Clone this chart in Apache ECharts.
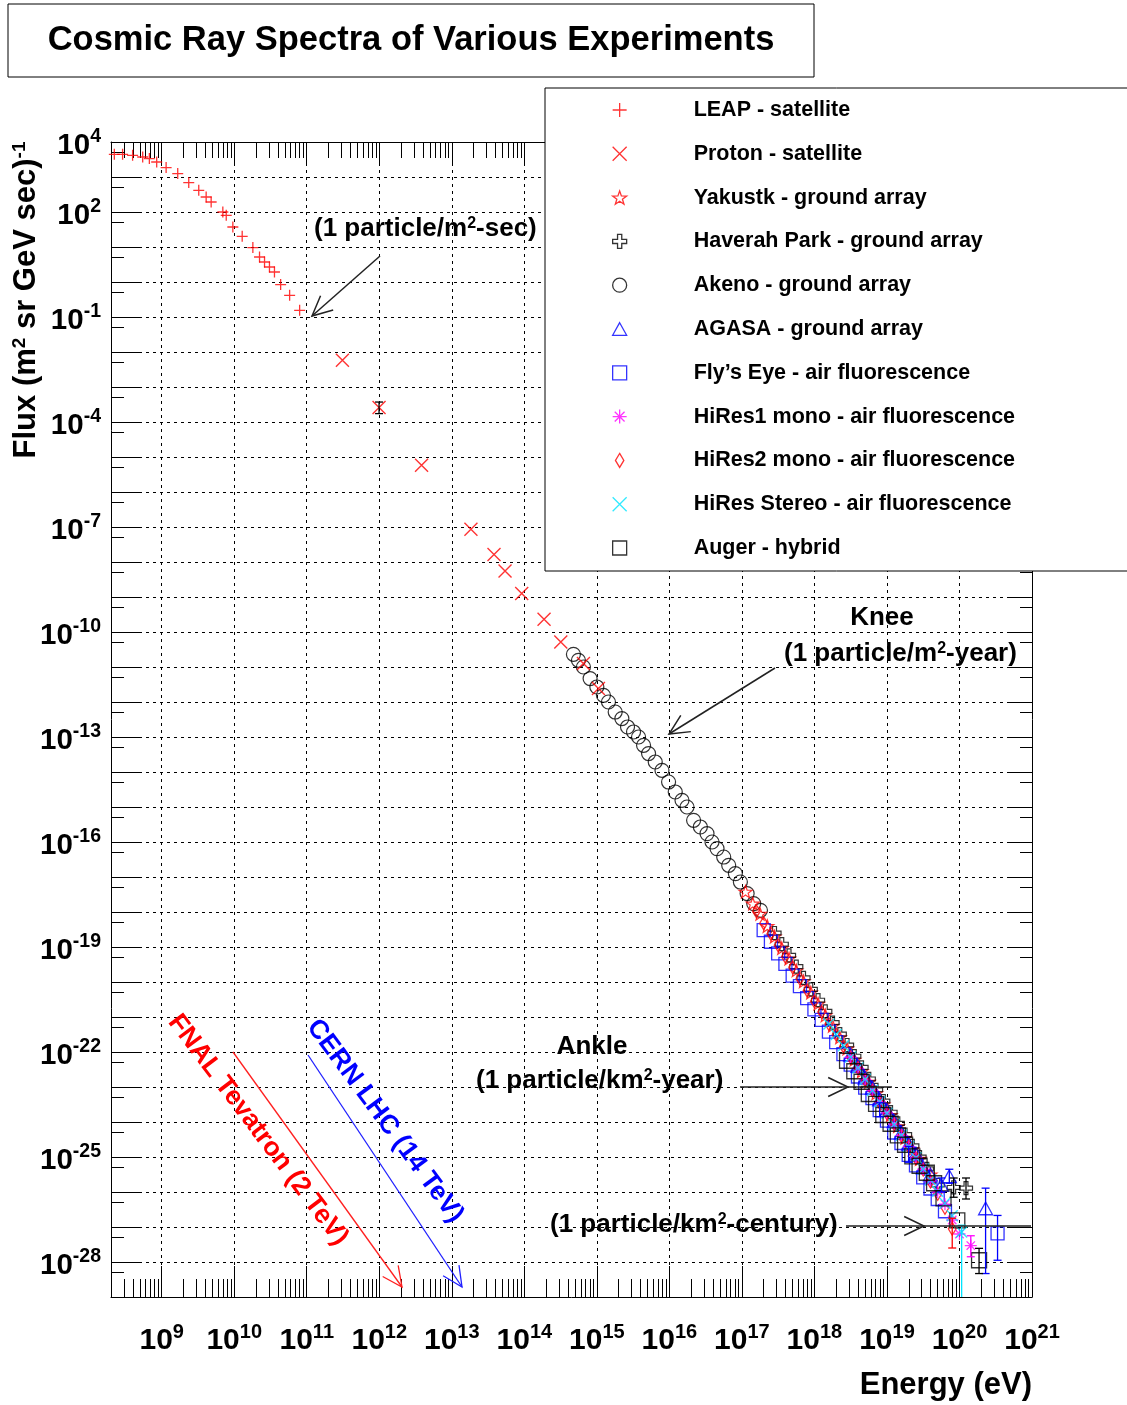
<!DOCTYPE html>
<html><head><meta charset="utf-8">
<script src="https://cdn.jsdelivr.net/npm/echarts@6/dist/echarts.min.js"></script>
<style>html,body{margin:0;padding:0;background:#fff}#c{width:1127px;height:1405px}</style>
</head><body><div id="c"></div>
<script>
const FONT = '"Liberation Sans", Arial, Helvetica, sans-serif';

// ---- Data (log10 of energy in eV, log10 of flux in (m^2 sr GeV sec)^-1) ----
const leapLogE = [8.347,8.461,8.599,8.738,8.830,8.931,9.061,9.221,9.373,9.511,9.613,9.682,9.843,9.890,9.981,10.110,10.257,10.349,10.418,10.486,10.555,10.640,10.764,10.902];
const leapLogFlux = [3.649,3.649,3.620,3.571,3.526,3.429,3.269,3.097,2.840,2.620,2.429,2.286,2.000,1.906,1.571,1.306,0.983,0.714,0.571,0.429,0.286,-0.074,-0.380,-0.809];

const protonLogE = [11.492,11.997,12.583,13.264,13.582,13.734,13.964,14.272,14.503,14.815,15.022];
const protonLogFlux = [-2.237,-3.589,-5.237,-7.066,-7.789,-8.257,-8.903,-9.637,-10.286,-10.903,-11.617];

const yakutskLogE = [17.05,17.15,17.25,17.35,17.45,17.55,17.65,17.75,17.85,17.95,18.05,18.15,18.25,18.35,18.45,18.55,18.65,18.75,18.85,18.95,19.05,19.15,19.25,19.35,19.45,19.60];
const yakutskLogFlux = [-17.42,-17.76,-18.05,-18.40,-18.70,-19.03,-19.33,-19.67,-19.98,-20.30,-20.62,-20.95,-21.25,-21.58,-21.90,-22.22,-22.55,-22.85,-23.18,-23.50,-23.80,-24.12,-24.45,-24.78,-25.05,-25.50];

const haverahLogE = [17.45,17.55,17.65,17.75,17.85,17.95,18.05,18.15,18.25,18.35,18.45,18.55,18.65,18.75,18.85,18.95,19.05,19.15,19.25,19.35,19.45,19.55,19.70,19.92,20.09];
const haverahLogFlux = [-18.60,-18.92,-19.24,-19.56,-19.88,-20.21,-20.52,-20.84,-21.16,-21.49,-21.80,-22.12,-22.44,-22.77,-23.08,-23.40,-23.72,-24.04,-24.36,-24.68,-25.00,-25.34,-25.80,-25.87,-25.89];

const akenoLogE = [14.677,14.746,14.815,14.907,15.000,15.091,15.160,15.253,15.345,15.423,15.506,15.575,15.644,15.713,15.805,15.898,15.989,16.081,16.174,16.243,16.334,16.427,16.519,16.588,16.657,16.749,16.818,16.910,16.979,17.072,17.163,17.256];
const akenoLogFlux = [-10.637,-10.809,-11.000,-11.331,-11.571,-11.809,-12.000,-12.286,-12.474,-12.714,-12.857,-13.000,-13.237,-13.474,-13.714,-13.951,-14.286,-14.571,-14.809,-15.000,-15.380,-15.571,-15.760,-16.000,-16.189,-16.429,-16.666,-16.903,-17.143,-17.474,-17.760,-17.951];

const agasaLogE = [18.50,18.60,18.70,18.80,18.90,19.00,19.10,19.20,19.30,19.40,19.50,19.60,19.75,19.86,20.36];
const agasaLogFlux = [-22.08,-22.40,-22.74,-23.02,-23.36,-23.66,-23.98,-24.30,-24.62,-24.90,-25.30,-25.50,-25.80,-25.55,-26.47];

const flysEyeLogE = [17.3,17.4,17.5,17.6,17.7,17.8,17.9,18.0,18.1,18.2,18.3,18.4,18.5,18.6,18.7,18.8,18.9,19.0,19.1,19.2,19.3,19.4,19.5,19.6,19.7,19.8,20.525];
const flysEyeLogFlux = [-18.52,-18.85,-19.18,-19.48,-19.82,-20.12,-20.46,-20.78,-21.08,-21.42,-21.72,-22.06,-22.36,-22.70,-23.02,-23.32,-23.66,-23.96,-24.30,-24.60,-24.94,-25.24,-25.58,-25.90,-26.20,-26.55,-27.18];

const hires1LogE = [18.5,18.6,18.7,18.8,18.9,19.0,19.1,19.2,19.3,19.4,19.5,19.6,19.7,19.8,19.9,20.0,20.156];
const hires1LogFlux = [-22.15,-22.47,-22.78,-23.10,-23.42,-23.74,-24.06,-24.38,-24.70,-25.02,-25.35,-25.68,-26.00,-26.35,-26.80,-27.20,-27.53];

const hires2LogE = [17.2,17.3,17.4,17.5,17.6,17.7,17.8,17.9,18.0,18.1,18.2,18.3,18.4,18.5,18.6,18.7,18.8,18.9,19.0,19.1,19.2,19.3,19.4,19.5,19.6,19.7,19.8,19.9];
const hires2LogFlux = [-17.98,-18.32,-18.62,-18.95,-19.28,-19.58,-19.90,-20.24,-20.55,-20.86,-21.20,-21.50,-21.84,-22.15,-22.46,-22.80,-23.10,-23.44,-23.75,-24.06,-24.40,-24.70,-25.04,-25.36,-25.70,-26.05,-26.45,-27.05];

const hiresStereoLogE = [18.2,18.3,18.4,18.5,18.6,18.7,18.8,18.9,19.0,19.1,19.2,19.3,19.4,19.5,19.6,19.7,19.8,19.9,20.03];
const hiresStereoLogFlux = [-21.20,-21.50,-21.82,-22.14,-22.46,-22.78,-23.10,-23.42,-23.75,-24.07,-24.38,-24.70,-25.02,-25.34,-25.66,-25.98,-26.32,-26.68,-27.14];

const augerLogE = [18.45,18.55,18.65,18.75,18.85,18.95,19.05,19.15,19.25,19.35,19.45,19.55,19.65,19.78,19.97,20.27];
const augerLogFlux = [-22.25,-22.55,-22.85,-23.20,-23.48,-23.80,-24.05,-24.38,-24.65,-24.98,-25.25,-25.45,-25.75,-26.18,-26.81,-27.95];

// error bars: [logE, lowLogFlux, highLogFlux]
const protonErr = [[11.997,-3.76,-3.43]];
const agasaErr = [[19.75,-26.0,-25.6],[19.86,-25.75,-25.35],[20.36,-28.33,-25.89]];
const flysEyeErr = [[18.9,-23.85,-23.45],[19.3,-25.15,-24.7],[20.525,-27.95,-26.67]];
const augerErr = [[20.27,-28.33,-27.61]];
const hiresStereoErr = [[20.03,-29.5,-26.95]];
const hires1Err = [[20.156,-27.85,-27.25]];
const hires2Err = [[19.9,-27.6,-26.75]];
const haverahErr = [[19.92,-26.15,-25.6],[20.09,-26.2,-25.6]];

const seriesNames = ['LEAP - satellite','Proton - satellite','Yakustk - ground array','Haverah Park - ground array','Akeno - ground array','AGASA - ground array','Fly\u2019s Eye - air fluorescence','HiRes1 mono - air fluorescence','HiRes2 mono - air fluorescence','HiRes Stereo - air fluorescence','Auger - hybrid'];

// axis ticks / labels (exponents)
const xMinLog = Math.log10(2e8), xMaxLog = 21;
const xDecades = [9,10,11,12,13,14,15,16,17,18,19,20,21];
const yMinLog = -29, yMaxLog = 4;
const yDecades = []; for (let n = yMinLog; n <= yMaxLog; n++) yDecades.push(n);
const yLabelExps = [4,2,-1,-4,-7,-10,-13,-16,-19,-22,-25,-28];
const xMinor = [];
for (let n = 8; n <= 20; n++) for (let k = 2; k <= 9; k++) { const v = n + Math.log10(k); if (v > xMinLog + 1e-6 && v < xMaxLog) xMinor.push(v); }
const yMinor = [];
for (let n = -29; n <= 3; n++) yMinor.push(n + Math.log10(5));

// ---- symbols ----
const SYM = {
  plus: 'path://M0,5L10,5M5,0L5,10',
  cross: 'path://M0,0L10,10M10,0L0,10',
  star: 'path://M5,0L6.176,3.382L9.755,3.455L6.902,5.618L7.939,9.045L5,7L2.061,9.045L3.098,5.618L0.245,3.455L3.824,3.382Z',
  openCross: 'path://M3.5,0L6.5,0L6.5,3.5L10,3.5L10,6.5L6.5,6.5L6.5,10L3.5,10L3.5,6.5L0,6.5L0,3.5L3.5,3.5Z',
  circle: 'circle',
  triangle: 'path://M5,0L10,9L0,9Z',
  square: 'path://M0,0L10,0L10,10L0,10Z',
  asterisk: 'path://M5,0L5,10M0,5L10,5M1.5,1.5L8.5,8.5M8.5,1.5L1.5,8.5',
  diamond: 'path://M5,0L8,5L5,10L2,5Z'
};

function pts(E, F) { return E.map((e, i) => [e, F[i]]); }
function scat(name, E, F, symbol, size, color, bw) {
  return {
    name, type: 'scatter', data: pts(E, F), symbol, symbolSize: size, symbolKeepAspect: true,
    itemStyle: { color: 'rgba(0,0,0,0)', borderColor: color, borderWidth: bw || 1.3 },
    emphasis: { disabled: true }, silent: true
  };
}
function errSeries(data, color) {
  return {
    type: 'custom', data, clip: true, silent: true, z: 3,
    encode: { x: 0, y: [1, 2] },
    renderItem(params, api) {
      const x = api.value(0);
      const a = api.coord([x, api.value(1)]), b = api.coord([x, api.value(2)]);
      const c = 4;
      const st = { stroke: color, lineWidth: 1.3 };
      return { type: 'group', children: [
        { type: 'line', shape: { x1: a[0], y1: a[1], x2: b[0], y2: b[1] }, style: st },
        { type: 'line', shape: { x1: a[0] - c, y1: a[1], x2: a[0] + c, y2: a[1] }, style: st },
        { type: 'line', shape: { x1: b[0] - c, y1: b[1], x2: b[0] + c, y2: b[1] }, style: st }
      ]};
    }
  };
}

const RED = '#ff0000', BLUE = '#0000ff', MAG = '#ff00ff', CYAN = '#00e5ff', BLK = '#000000';

const series = [
  scat(seriesNames[4], akenoLogE, akenoLogFlux, SYM.circle, 14, BLK, 1.2),
  scat(seriesNames[0], leapLogE, leapLogFlux, SYM.plus, 11, RED, 1.3),
  scat(seriesNames[1], protonLogE, protonLogFlux, SYM.cross, 13, RED, 1.4),
  scat(seriesNames[2], yakutskLogE, yakutskLogFlux, SYM.star, 13, RED, 1.2),
  scat(seriesNames[3], haverahLogE, haverahLogFlux, SYM.openCross, 13, BLK, 1.2),
  scat(seriesNames[6], flysEyeLogE, flysEyeLogFlux, SYM.square, 13, BLUE, 1.3),
  scat(seriesNames[5], agasaLogE, agasaLogFlux, SYM.triangle, 14, BLUE, 1.3),
  scat(seriesNames[8], hires2LogE, hires2LogFlux, SYM.diamond, 13, RED, 1.3),
  scat(seriesNames[7], hires1LogE, hires1LogFlux, SYM.asterisk, 12, MAG, 1.3),
  scat(seriesNames[9], hiresStereoLogE, hiresStereoLogFlux, SYM.cross, 11, CYAN, 1.4),
  scat(seriesNames[10], augerLogE, augerLogFlux, SYM.square, 15, BLK, 1.3),
  errSeries(protonErr, BLK), errSeries(agasaErr, BLUE), errSeries(flysEyeErr, BLUE),
  errSeries(augerErr, BLK), errSeries(hiresStereoErr, CYAN), errSeries(hires1Err, MAG),
  errSeries(hires2Err, RED), errSeries(haverahErr, BLK)
];

const supFmt = v => '{b|10}{s|' + Math.round(v) + '}';
function richLab(big, small, lift) {
  return {
    b: { fontSize: big, fontWeight: 'bold', fontFamily: FONT, color: '#000', padding: [lift, 0, 0, 0] },
    s: { fontSize: small, fontWeight: 'bold', fontFamily: FONT, color: '#000', verticalAlign: 'top' }
  };
}
function hiddenAxis(extra) {
  return Object.assign({ type: 'value', gridIndex: 0, axisLine: { show: false, onZero: false }, axisLabel: { show: false }, splitLine: { show: false } }, extra);
}
const lineBlack = { show: true, onZero: false, lineStyle: { color: '#000', width: 1 } };

const xAxes = [
  { type: 'value', min: xMinLog, max: xMaxLog, position: 'bottom',
    axisLine: lineBlack,
    axisTick: { show: true, inside: true, length: 31, customValues: xDecades, lineStyle: { color: '#000', width: 1 } },
    axisLabel: { show: true, customValues: xDecades, margin: 25, formatter: supFmt, rich: richLab(30, 20, 4) },
    splitLine: { show: true, lineStyle: { color: '#000', width: 1, type: [3, 4] } } },
  hiddenAxis({ min: xMinLog, max: xMaxLog, position: 'bottom', axisTick: { show: true, inside: true, length: 18, customValues: xMinor, lineStyle: { color: '#000', width: 1 } } }),
  hiddenAxis({ min: xMinLog, max: xMaxLog, position: 'top', axisLine: lineBlack, axisTick: { show: true, inside: true, length: 22, customValues: xDecades, lineStyle: { color: '#000', width: 1 } } }),
  hiddenAxis({ min: xMinLog, max: xMaxLog, position: 'top', axisTick: { show: true, inside: true, length: 16, customValues: xMinor, lineStyle: { color: '#000', width: 1 } } })
];
const yAxes = [
  { type: 'value', min: yMinLog, max: yMaxLog, position: 'left',
    axisLine: lineBlack,
    axisTick: { show: true, inside: true, length: 30, customValues: yDecades, lineStyle: { color: '#000', width: 1 } },
    axisLabel: { show: true, customValues: yLabelExps, margin: 10, formatter: supFmt, rich: richLab(29.5, 19.5, 4), padding: [3, 0, 0, 0] },
    splitLine: { show: true, lineStyle: { color: '#000', width: 1, type: [3, 4] } } },
  hiddenAxis({ min: yMinLog, max: yMaxLog, position: 'left', axisTick: { show: true, inside: true, length: 13, customValues: yMinor, lineStyle: { color: '#000', width: 1 } } }),
  hiddenAxis({ min: yMinLog, max: yMaxLog, position: 'right', axisLine: lineBlack, axisTick: { show: true, inside: true, length: 25, customValues: yDecades, lineStyle: { color: '#000', width: 1 } } }),
  hiddenAxis({ min: yMinLog, max: yMaxLog, position: 'right', axisTick: { show: true, inside: true, length: 12, customValues: yMinor, lineStyle: { color: '#000', width: 1 } } })
];

// ---- annotations (pixel layout) ----
function arrow(x1, y1, x2, y2, tx, ty, color, w) {
  const dx = x2 - x1, dy = y2 - y1, len = Math.hypot(dx, dy), ux = dx / len, uy = dy / len;
  const L = 22, a = Math.PI / 7;
  const rot = ang => [ux * Math.cos(ang) - uy * Math.sin(ang), ux * Math.sin(ang) + uy * Math.cos(ang)];
  const r1 = rot(a), r2 = rot(-a);
  const st = { stroke: color, lineWidth: w, fill: null };
  return [
    { type: 'line', z: 10, shape: { x1, y1, x2, y2 }, style: st },
    { type: 'polyline', z: 10, shape: { points: [[tx - L * r1[0], ty - L * r1[1]], [tx, ty], [tx - L * r2[0], ty - L * r2[1]]] }, style: st }
  ];
}
function txt(x, y, text, size, color, align, extra) {
  return Object.assign({ type: 'text', z: 10, x, y, style: {
    text, fill: color, fontSize: size, fontWeight: 'bold', fontFamily: FONT, align, verticalAlign: 'middle',
    rich: { s: { fontSize: Math.round(size * 0.62), fontWeight: 'bold', fontFamily: FONT, fill: color, verticalAlign: 'top' } }
  } }, extra || {});
}
const ANN = '#222';
const graphics = [
  { type: 'rect', z: 10, shape: { x: 8, y: 4, width: 806, height: 73 }, style: { fill: '#fff', stroke: '#000', lineWidth: 1 } },
  txt(411, 40, 'Cosmic Ray Spectra of Various Experiments', 34.5, '#000', 'center'),
  txt(26, 300, 'Flux (m{s|2} sr GeV sec){s|-1}', 31, '#000', 'center', { rotation: Math.PI / 2 }),
  txt(1032, 1385, 'Energy (eV)', 31, '#000', 'right'),
  txt(314, 229, '(1 particle/m{s|2}-sec)', 26, '#000', 'left'),
  txt(882, 618, 'Knee', 26, '#000', 'center'),
  txt(784, 654, '(1 particle/m{s|2}-year)', 26, '#000', 'left'),
  txt(592, 1047, 'Ankle', 26, '#000', 'center'),
  txt(476, 1081, '(1 particle/km{s|2}-year)', 26, '#000', 'left'),
  txt(550, 1225, '(1 particle/km{s|2}-century)', 26, '#000', 'left'),
  txt(258, 1130, 'FNAL Tevatron (2 TeV)', 26.5, '#ff0000', 'center', { rotation: -53 * Math.PI / 180 }),
  txt(385, 1121, 'CERN LHC (14 TeV)', 26.5, '#0000ff', 'center', { rotation: -53.5 * Math.PI / 180 }),
  ...arrow(380, 256, 312, 316, 312, 316, ANN, 1.5),
  ...arrow(775, 668, 669, 734, 669, 734, ANN, 1.5),
  ...arrow(740, 1087, 892, 1087, 848, 1087, ANN, 1.5),
  ...arrow(846, 1226, 1031, 1226, 924, 1226, ANN, 1.5),
  ...arrow(233, 1052, 402, 1287, 402, 1287, '#ff2020', 1.3),
  ...arrow(308, 1055, 462, 1287, 462, 1287, '#2020ff', 1.3)
];

const chart = echarts.init(document.getElementById('c'), null, { renderer: 'canvas' });
chart.setOption({
  animation: false,
  backgroundColor: '#fff',
  grid: { left: 111, top: 142, width: 921, height: 1155, containLabel: false },
  xAxis: xAxes,
  yAxis: yAxes,
  legend: {
    orient: 'vertical', left: 545, top: 88, z: 20,
    padding: [10, 130, 11, 67],
    itemWidth: 14, itemHeight: 14, itemGap: 19.8,
    backgroundColor: '#fff', borderColor: '#000', borderWidth: 1,
    textStyle: { fontSize: 21.5, fontWeight: 'bold', fontFamily: FONT, color: '#000', lineHeight: 24, padding: [0, 0, 0, 62] },
    itemStyle: { borderWidth: 1.3 },
    selectedMode: false,
    data: seriesNames
  },
  graphic: graphics,
  series
});
</script></body></html>
